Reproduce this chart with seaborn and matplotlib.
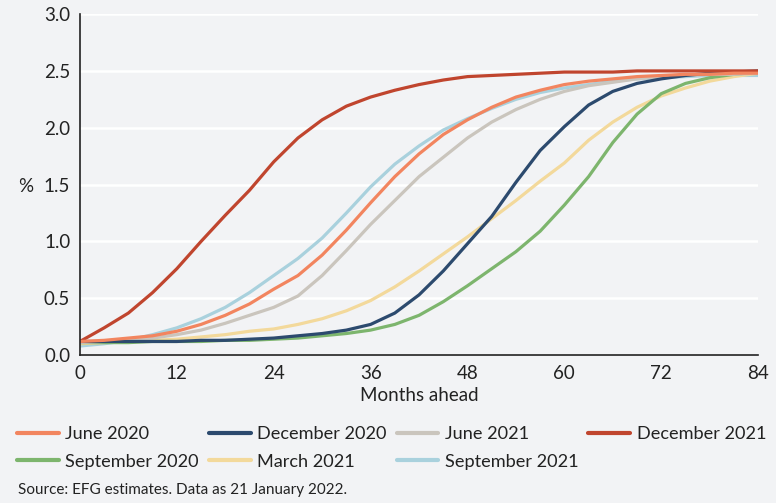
import pandas as pd
import seaborn as sns
import matplotlib.pyplot as plt
from matplotlib.lines import Line2D

# values, every 3 months
months = list(range(0, 85, 3))

jun20 = [0.12, 0.13, 0.15, 0.17, 0.21, 0.27, 0.35, 0.45, 0.58, 0.70, 0.88, 1.10, 1.34, 1.57, 1.77,
         1.94, 2.07, 2.18, 2.27, 2.33, 2.38, 2.41, 2.43, 2.45, 2.46, 2.47, 2.47, 2.48, 2.48]
dec20 = [0.12, 0.12, 0.12, 0.12, 0.12, 0.13, 0.13, 0.14, 0.15, 0.17, 0.19, 0.22, 0.27, 0.37, 0.53,
         0.74, 0.98, 1.22, 1.52, 1.80, 2.01, 2.20, 2.32, 2.39, 2.43, 2.46, 2.48, 2.49, 2.50]
jun21 = [0.11, 0.12, 0.13, 0.15, 0.18, 0.22, 0.28, 0.35, 0.42, 0.52, 0.70, 0.92, 1.15, 1.36, 1.57,
         1.74, 1.91, 2.05, 2.16, 2.25, 2.32, 2.37, 2.40, 2.43, 2.45, 2.46, 2.47, 2.47, 2.48]
dec21 = [0.12, 0.24, 0.37, 0.55, 0.76, 1.00, 1.23, 1.45, 1.70, 1.91, 2.07, 2.19, 2.27, 2.33, 2.38,
         2.42, 2.45, 2.46, 2.47, 2.48, 2.49, 2.49, 2.49, 2.50, 2.50, 2.50, 2.50, 2.50, 2.50]
sep20 = [0.11, 0.11, 0.11, 0.12, 0.12, 0.12, 0.13, 0.13, 0.14, 0.15, 0.17, 0.19, 0.22, 0.27, 0.35,
         0.47, 0.61, 0.76, 0.91, 1.09, 1.32, 1.57, 1.87, 2.12, 2.30, 2.39, 2.44, 2.47, 2.49]
mar21 = [0.10, 0.11, 0.12, 0.13, 0.14, 0.16, 0.18, 0.21, 0.23, 0.27, 0.32, 0.39, 0.48, 0.60, 0.74,
         0.89, 1.04, 1.20, 1.36, 1.53, 1.69, 1.89, 2.05, 2.18, 2.28, 2.35, 2.41, 2.45, 2.48]
sep21 = [0.08, 0.10, 0.13, 0.18, 0.24, 0.32, 0.42, 0.55, 0.70, 0.85, 1.03, 1.25, 1.48, 1.68, 1.84,
         1.98, 2.08, 2.17, 2.25, 2.31, 2.35, 2.38, 2.41, 2.43, 2.44, 2.45, 2.46, 2.46, 2.46]

series = {'June 2020': jun20, 'December 2020': dec20, 'June 2021': jun21,
          'December 2021': dec21, 'September 2020': sep20, 'March 2021': mar21,
          'September 2021': sep21}

colors = {'June 2020': '#f2855f', 'December 2020': '#2c4a6e', 'June 2021': '#cac5bd',
          'December 2021': '#c0452e', 'September 2020': '#7db56d', 'March 2021': '#f3d99b',
          'September 2021': '#a9d1dd'}

# legend order (column-wise fill with 4 columns gives the reference rows)
legend_order = ['June 2020', 'September 2020', 'December 2020', 'March 2021',
                'June 2021', 'September 2021', 'December 2021']
# draw order so June 2020 ends up on top
draw_order = ['September 2021', 'March 2021', 'September 2020', 'June 2021',
              'December 2020', 'December 2021', 'June 2020']

rows = []
for name, vals in series.items():
    for m, v in zip(months, vals):
        rows.append({'Months': m, 'Value': v, 'Series': name})
df = pd.DataFrame(rows)

bg = '#f2f3f5'
ink = '#222222'
sns.set_style('white')
plt.rcParams['font.family'] = ['Lato', 'DejaVu Sans']

fig = plt.figure(figsize=(7.76, 5.03), dpi=100, facecolor=bg)
ax = fig.add_axes([0.103, 0.294, 0.874, 0.678], facecolor=bg)

sns.lineplot(data=df, x='Months', y='Value', hue='Series', hue_order=draw_order,
             palette=colors, linewidth=2.3, ax=ax, legend=False)

ax.set_xlim(0, 84)
ax.set_ylim(0, 3.0)
ax.set_xticks(range(0, 85, 12))
ax.set_yticks([0, 0.5, 1.0, 1.5, 2.0, 2.5, 3.0])
ax.set_yticklabels(['0.0', '0.5', '1.0', '1.5', '2.0', '2.5', '3.0'])
ax.grid(axis='y', color='white', linewidth=1.8)
ax.set_axisbelow(True)
for s in ['top', 'right']:
    ax.spines[s].set_visible(False)
for s in ['left', 'bottom']:
    ax.spines[s].set_color(ink)
    ax.spines[s].set_linewidth(1.2)
ax.tick_params(axis='both', direction='out', length=5, width=1.2, color=ink,
               labelsize=13.5, labelcolor=ink, pad=2)

ax.set_xlabel('Months ahead', fontsize=13.5, color=ink, labelpad=4)
ax.set_ylabel('%', rotation=0, fontsize=13.5, color=ink)
ax.yaxis.set_label_coords(-0.08, 0.47)

handles = [Line2D([], [], color=colors[n], linewidth=3) for n in legend_order]
fig.legend(handles, legend_order, loc='upper left', bbox_to_anchor=(0.022, 0.153),
           ncol=4, frameon=False, fontsize=13.1, handlelength=2.3, handletextpad=0.35,
           columnspacing=0.55, labelspacing=0.65, borderpad=0, borderaxespad=0,
           labelcolor=ink)

fig.text(0.023, 0.026, 'Source: EFG estimates. Data as 21 January 2022.', fontsize=11,
         color=ink, va='center')

fig.savefig('out.png', dpi=100, facecolor=bg)
